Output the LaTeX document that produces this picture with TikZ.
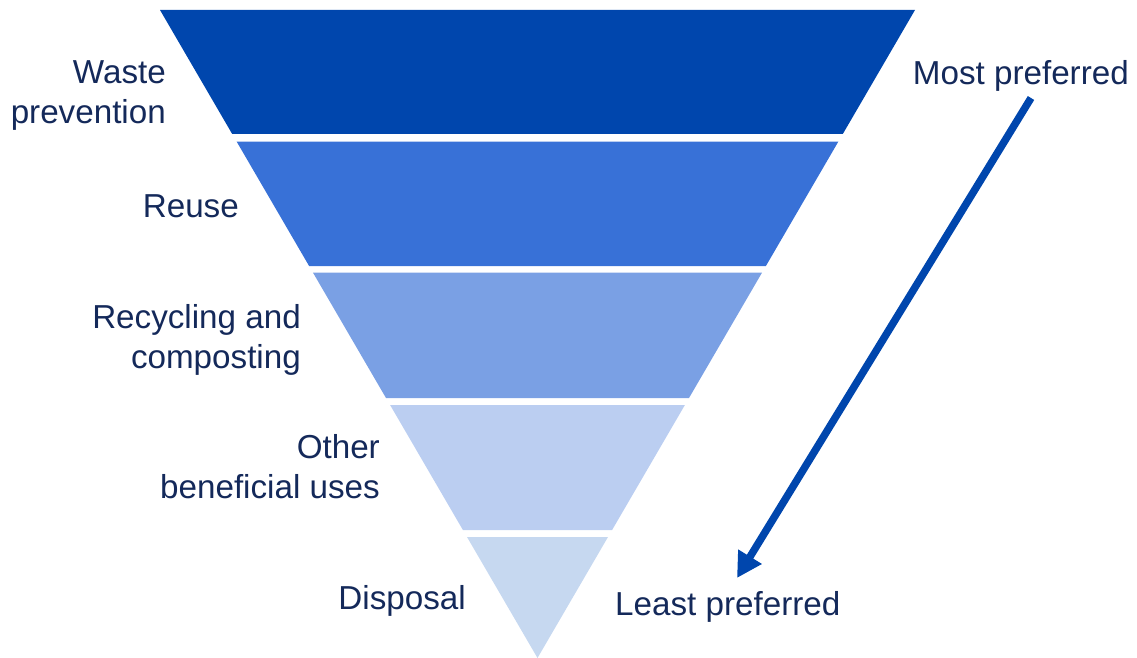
\documentclass[tikz,border=0pt]{standalone}
\usepackage{fontspec}
\setmainfont{Liberation Sans}
\usetikzlibrary{arrows.meta}
\definecolor{bandA}{HTML}{0046AD}
\definecolor{bandB}{HTML}{3871D7}
\definecolor{bandC}{HTML}{7AA0E4}
\definecolor{bandD}{HTML}{BBCEF1}
\definecolor{bandE}{HTML}{C6D8F0}
\definecolor{txt}{HTML}{14295A}
\definecolor{arr}{HTML}{0046AD}
\tikzset{
  lbl/.style={anchor=base east, inner sep=0pt, align=right, text=txt,
    font=\fontsize{33.2}{40}\selectfont},
  lbll/.style={anchor=base west, inner sep=0pt, text=txt,
    font=\fontsize{33.2}{40}\selectfont},
  arrowline/.style={draw=arr, line width=7.5pt, -{Triangle[length=25pt,width=26pt]}}
}
\begin{document}
\begin{tikzpicture}[x=1pt,y=-1pt]
\useasboundingbox (0,0) rectangle (1137,658);
% bands
\fill[bandA] (160,10) -- (915,10) -- (842.8,134) -- (232.2,134) -- cycle;
\fill[bandB] (236.6,141.5) -- (838.4,141.5) -- (765.9,266) -- (309.1,266) -- cycle;
\fill[bandC] (312.9,272.5) -- (762.1,272.5) -- (689.0,398) -- (386.0,398) -- cycle;
\fill[bandD] (390.1,405) -- (684.9,405) -- (612.1,530) -- (462.9,530) -- cycle;
\fill[bandE] (467.0,537) -- (608.0,537) -- (537.5,658) -- cycle;
% labels (base anchor = baseline of the last line)
\node[lbl] (waste) at (166,124) {Waste\\prevention};
\node[lbl] (reuse) at (239,217) {Reuse};
\node[lbl] (recyc) at (301,368) {Recycling and\\composting};
\node[lbl] (other) at (380,498) {Other\\beneficial uses};
\node[lbl] (disp) at (466,609) {Disposal};
\node[lbl] (most) at (1129,85) {Most preferred};
\node[lbll] (least) at (615,615) {Least preferred};
% arrow
\coordinate (astart) at (1031,98);
\coordinate (aend) at (737,578);
\draw[arrowline] (astart) -- (aend);
\end{tikzpicture}
\end{document}
